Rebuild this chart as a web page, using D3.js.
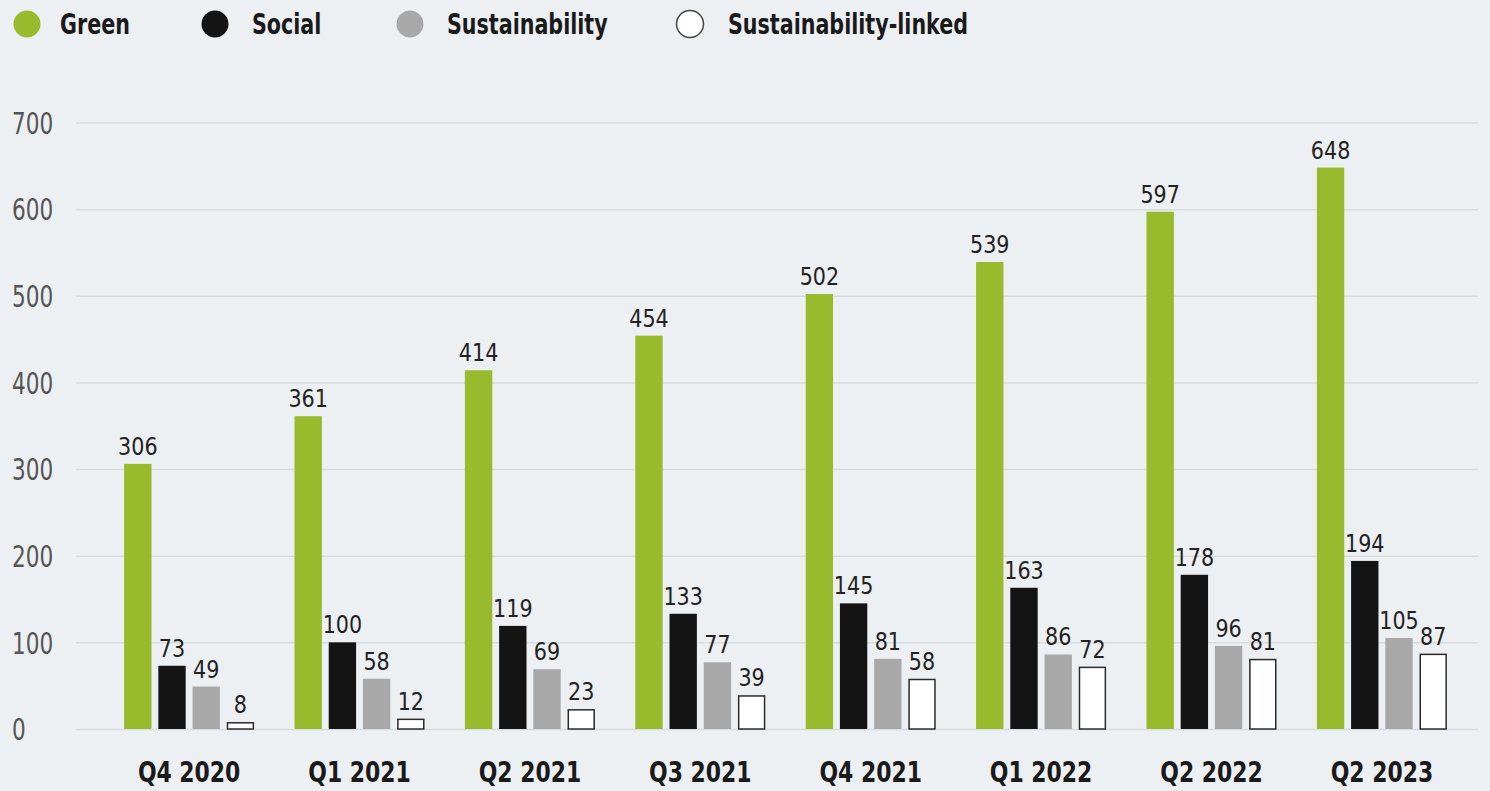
<!DOCTYPE html>
<html>
<head>
<meta charset="utf-8">
<script src="https://cdn.jsdelivr.net/npm/d3@7"></script>
<style>
  html, body { margin: 0; padding: 0; background: #edf0f3; }
  svg { display: block; }
  .cond { font-family: "DejaVu Sans Condensed", "DejaVu Sans", sans-serif; font-stretch: condensed; }
</style>
</head>
<body>
<svg id="chart" width="1490" height="791"></svg>
<script>
// Quarterly bond counts by label type
const categories = ["Q4 2020", "Q1 2021", "Q2 2021", "Q3 2021", "Q4 2021", "Q1 2022", "Q2 2022", "Q2 2023"];
const seriesNames = ["Green", "Social", "Sustainability", "Sustainability-linked"];
const greenValues = [306, 361, 414, 454, 502, 539, 597, 648];
const socialValues = [73, 100, 119, 133, 145, 163, 178, 194];
const sustainabilityValues = [49, 58, 69, 77, 81, 86, 96, 105];
const linkedValues = [8, 12, 23, 39, 58, 72, 81, 87];
const yTicks = [0, 100, 200, 300, 400, 500, 600, 700];

const seriesValues = [greenValues, socialValues, sustainabilityValues, linkedValues];
const fills = ["#98ba2c", "#141414", "#a8a8a8", "#ffffff"];
const strokes = ["none", "none", "none", "#2a2a2a"];

const svg = d3.select("#chart");
const W = 1490, H = 791;
svg.append("rect").attr("width", W).attr("height", H).attr("fill", "#edf0f3");

const y = d3.scaleLinear().domain([0, 700]).range([729, 122.5]);
const x = d3.scaleBand().domain(categories).range([104, 1467])
  .paddingInner(0.237).paddingOuter(0.118);
const xs = d3.scaleBand().domain(seriesNames).range([0, x.bandwidth()]).paddingInner(0.2);

// grid + y tick labels (narrowed horizontally)
const ySX = 0.8;
const yAxis = d3.axisLeft(y).tickValues(yTicks).tickSize(0).tickPadding(0);
const gy = svg.append("g").attr("class", "cond").call(yAxis);
gy.select(".domain").remove();
gy.selectAll(".tick").append("line")
  .attr("x1", 76).attr("x2", 1478)
  .attr("stroke", "#d8dbdf").attr("stroke-width", 1.5);
gy.selectAll("text")
  .attr("x", 12 / ySX).attr("dy", "0.36em")
  .attr("transform", `scale(${ySX},1)`)
  .attr("text-anchor", "start")
  .attr("fill", "#555").style("font-size", "30px");

// bars
const rows = categories.map((c, i) => ({ cat: c, vals: seriesNames.map((s, j) => ({ s, j, v: seriesValues[j][i] })) }));
const grp = svg.append("g").selectAll("g").data(rows).join("g")
  .attr("transform", d => `translate(${x(d.cat)},0)`);

grp.selectAll("rect").data(d => d.vals).join("rect")
  .attr("x", d => xs(d.s) + (d.j === 3 ? 0.75 : 0))
  .attr("width", d => xs.bandwidth() - (d.j === 3 ? 1.5 : 0))
  .attr("y", d => y(d.v) + (d.j === 3 ? 0.75 : 0))
  .attr("height", d => y(0) - y(d.v) - (d.j === 3 ? 0.75 : 0))
  .attr("fill", d => fills[d.j])
  .attr("stroke", d => strokes[d.j])
  .attr("stroke-width", 1.5);

// value labels
grp.selectAll("text").data(d => d.vals).join("text")
  .attr("class", "cond")
  .attr("transform", d => `translate(${xs(d.s) + xs.bandwidth() / 2},${y(d.v) - 9}) scale(0.92,1)`)
  .attr("text-anchor", "middle")
  .attr("fill", "#222")
  .style("font-size", "25px")
  .text(d => d.v);

// category labels
const xAxis = d3.axisBottom(x).tickSize(0).tickPadding(0);
const gx = svg.append("g").attr("class", "cond").attr("transform", "translate(0,772)").call(xAxis);
gx.select(".domain").remove();
gx.selectAll("text").attr("dy", "0.36em").attr("y", 0)
  .attr("transform", "scale(0.87,1)")
  .attr("fill", "#1a1a1a").style("font-size", "28px").style("font-weight", "bold");

// legend
const legendCX = [27, 215, 410, 690];
const legendTX = [60, 252, 447, 728];
const legSX = 0.82;
const leg = svg.append("g").selectAll("g").data(seriesNames).join("g");
leg.append("circle")
  .attr("cx", (d, i) => legendCX[i]).attr("cy", 24).attr("r", 13.5)
  .attr("fill", (d, i) => fills[i])
  .attr("stroke", (d, i) => i === 3 ? "#444" : "none").attr("stroke-width", 1.5);
leg.append("text").attr("class", "cond")
  .attr("transform", (d, i) => `translate(${legendTX[i]},24) scale(${legSX},1)`)
  .attr("dy", "0.36em")
  .attr("fill", "#1a1a1a").style("font-size", "28px").style("font-weight", "bold")
  .text(d => d);
</script>
</body>
</html>
